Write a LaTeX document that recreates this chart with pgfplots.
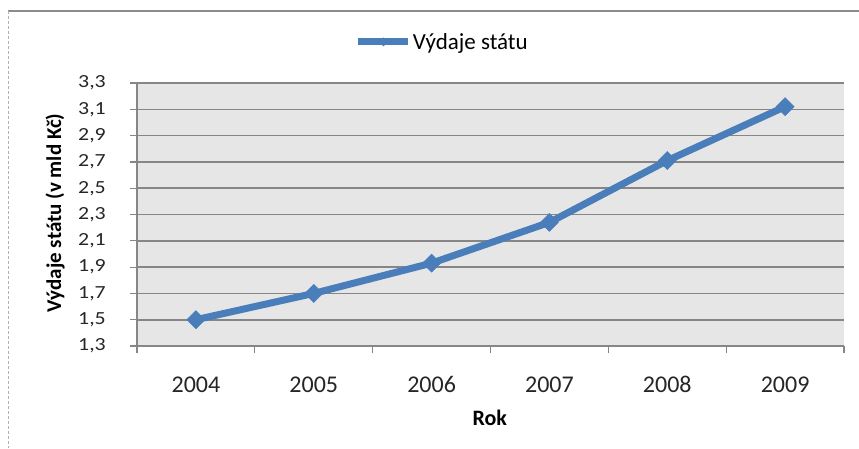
\documentclass[border=0pt]{standalone}
\usepackage{fontspec}
\setmainfont{Carlito}
\newfontfamily\ytickfont[FakeStretch=1.18]{Carlito}
\usepackage{pgfplots}
\pgfplotsset{compat=1.18}
\definecolor{serblue}{HTML}{4A7EBB}
\definecolor{gridc}{HTML}{868686}
\definecolor{bgc}{HTML}{E6E6E6}
\begin{document}
\begin{tikzpicture}[x=1pt,y=1pt]
\useasboundingbox (0,0) rectangle (859,448);
\fill[white] (0,0) rectangle (859,448);
\draw[line width=2pt, color=black!45] (8,437) -- (859,437);
\draw[line width=1pt, color=black!30, densely dashed] (8,437) -- (8,0);
\begin{axis}[
  scale only axis,
  width=707pt, height=263pt,
  at={(137pt,102pt)}, anchor=south west,
  xmin=-0.5, xmax=5.5,
  ymin=1.3, ymax=3.3,
  axis lines*=left,
  axis line style={color=gridc, line width=1.2pt},
  axis background/.style={fill=bgc},
  xtick={0,1,2,3,4,5},
  xticklabels={2004,2005,2006,2007,2008,2009},
  major x tick style={draw=none},
  minor xtick={-0.5,0.5,1.5,2.5,3.5,4.5,5.5},
  minor x tick style={color=gridc, line width=1.2pt},
  minor tick length=7pt,
  ytick={1.3,1.5,1.7,1.9,2.1,2.3,2.5,2.7,2.9,3.1,3.3},
  y tick style={color=gridc, line width=1.2pt},
  major tick length=7pt,
  tick align=outside,
  ymajorgrids,
  grid style={color=gridc, line width=1.6pt},
  /pgf/number format/assume math mode=true,
  /pgf/number format/.cd, use comma, fixed, fixed zerofill, precision=1,
  /pgfplots/.cd,
  xticklabel style={anchor=base, yshift=-39pt, font=\fontsize{24}{28}\selectfont, color=black!85},
  yticklabel style={anchor=east, inner sep=0pt, xshift=-24pt, font=\ytickfont\fontsize{18.5}{22}\selectfont, color=black!85},
  xlabel={Rok},
  xlabel style={at={(axis description cs:0.499,-0.274)}, anchor=center, font=\bfseries\fontsize{22}{26}\selectfont},
  ylabel={Výdaje státu (v mld Kč)},
  ylabel style={at={(axis description cs:-0.116,0.506)}, anchor=center, font=\bfseries\fontsize{21}{25}\selectfont},
  legend style={draw=none, fill=none, at={(axis description cs:0.3083,1.156)}, anchor=west, inner sep=0pt, outer sep=0pt, font=\fontsize{23}{27}\selectfont, nodes={inner sep=1pt}},
  legend image code/.code={
    \draw[serblue, line width=7pt] (0pt,0pt) -- (50pt,0pt);
    \path[fill=serblue, draw=none] (21pt,0pt) -- (25pt,4.5pt) -- (29pt,0pt) -- (25pt,-4.5pt) -- cycle;
  },
  clip=false,
]
\addplot[serblue, line width=7pt, mark=square*, mark size=6.4pt, mark options={solid, rotate=45, line width=0.5pt, fill=serblue}] coordinates {
  (0,1.50) (1,1.70) (2,1.93) (3,2.24) (4,2.71) (5,3.12)
};
\addlegendentry{Výdaje státu}
\end{axis}
\end{tikzpicture}
\end{document}
